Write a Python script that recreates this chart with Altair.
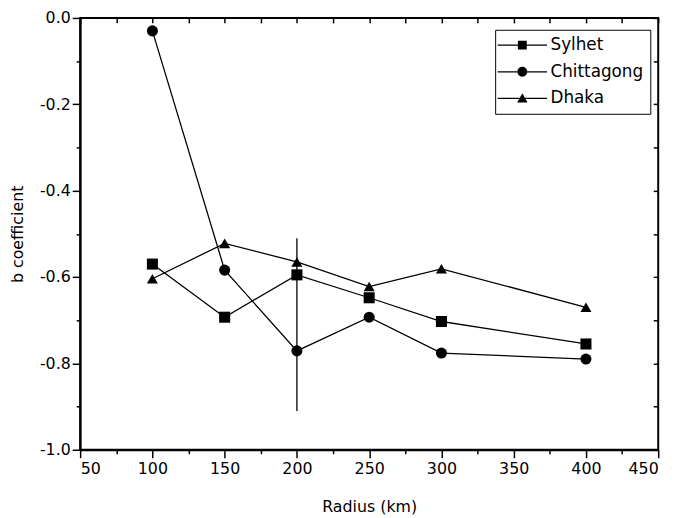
import altair as alt
import pandas as pd

radius = [100, 150, 200, 250, 300, 400]
sylhet = [-0.57, -0.693, -0.595, -0.648, -0.703, -0.755]
chittagong = [-0.03, -0.584, -0.771, -0.693, -0.776, -0.79]
dhaka = [-0.604, -0.522, -0.565, -0.622, -0.581, -0.67]
series_names = ["Sylhet", "Chittagong", "Dhaka"]
marker_shapes = ["square", "circle", "triangle-up"]

err_x = [200]
err_low = [-0.91]
err_high = [-0.51]

x_ticks = list(range(50, 451, 25))
y_ticks = [round(-1.0 + 0.1 * i, 1) for i in range(11)]

rows = []
for name, vals in zip(series_names, [sylhet, chittagong, dhaka]):
    for r, v in zip(radius, vals):
        rows.append({"radius": r, "b": v, "series": name})
df = pd.DataFrame(rows)
err_df = pd.DataFrame({"radius": err_x, "lo": err_low, "hi": err_high})

FONT = "DejaVu Sans"
xscale = alt.Scale(domain=[50, 450], nice=False, zero=False)
yscale = alt.Scale(domain=[-1.0, 0.0], nice=False, zero=False)

x_axis = alt.Axis(
    values=x_ticks, title="Radius (km)", orient="bottom",
    labelExpr="datum.value % 50 == 0 ? datum.label : ''",
    tickSize={"condition": {"test": "datum.value % 50 == 0", "value": 8}, "value": 4},
    labelPadding=3, titlePadding=22, grid=False,
)
y_axis = alt.Axis(
    values=y_ticks, title="b coefficient", orient="left",
    labelExpr="abs(round(datum.value*10)) % 2 == 0 ? (datum.value < 0 ? '-' : '') + format(abs(datum.value), '.1f') : ''",
    tickSize={"condition": {"test": "abs(round(datum.value*10)) % 2 == 0", "value": 8}, "value": 4},
    labelPadding=2, titlePadding=14, grid=False,
)

base = alt.Chart(df)

lines = base.mark_line(color="black", strokeWidth=1.3).encode(
    x=alt.X("radius:Q", scale=xscale, axis=x_axis),
    y=alt.Y("b:Q", scale=yscale, axis=y_axis),
    detail="series:N",
)

point_layers = []
for name, shp in zip(series_names, marker_shapes):
    point_layers.append(
        base.transform_filter(alt.datum.series == name).mark_point(
            filled=True, color="black", opacity=1, size=125, shape=shp
        ).encode(
            x=alt.X("radius:Q", scale=xscale, axis=None),
            y=alt.Y("b:Q", scale=yscale, axis=None),
        )
    )

# legend-only layer: filled symbols with a thin bar (the line) through them
sq = "M-5,-0.13H-0.9V-0.9H0.9V-0.13H5V0.13H0.9V0.9H-0.9V0.13H-5Z"
ci = ("M-5,-0.13H-0.98V0.13H-5ZM0.98,-0.13H5V0.13H0.98Z"
      "M-1,0A1,1 0 1,0 1,0A1,1 0 1,0 -1,0Z")
tr = ("M-5,-0.13H-0.5V0.13H-5ZM0.5,-0.13H5V0.13H0.5Z"
      "M0,-1.05L1.05,0.8L-1.05,0.8Z")

legend_layer = base.transform_filter("datum.b > 10").mark_point(
    filled=True, color="black", size=100
).encode(
    x=alt.X("radius:Q", scale=xscale, axis=None),
    y=alt.Y("b:Q", scale=yscale, axis=None),
    shape=alt.Shape(
        "series:N",
        scale=alt.Scale(domain=series_names, range=[sq, ci, tr]),
        legend=alt.Legend(
            title=None, orient="none", legendX=420, legendY=12,
            strokeColor="black", padding=7, symbolSize=100,
            symbolOffset=12, labelOffset=20, rowPadding=9,
            labelFont=FONT, labelFontSize=17, labelColor="black",
            symbolFillColor="black", symbolOpacity=1,
        ),
    ),
)

errbar = alt.Chart(err_df).mark_rule(color="black", strokeWidth=1.3).encode(
    x=alt.X("radius:Q", scale=xscale, axis=None),
    y=alt.Y("lo:Q", scale=yscale, axis=None),
    y2="hi:Q",
)

frame_axes = base.mark_point(opacity=0).encode(
    x=alt.X("radius:Q", scale=xscale, axis=alt.Axis(
        orient="top", values=x_ticks, labels=False, title=None, domain=False,
        offset=-5, tickSize=5, grid=False)),
    y=alt.Y("b:Q", scale=yscale, axis=alt.Axis(
        orient="right", values=y_ticks, labels=False, title=None, domain=False,
        offset=-5, tickSize=5, grid=False)),
)

chart = alt.layer(lines, errbar, *point_layers, legend_layer, frame_axes).resolve_axis(
    x="independent", y="independent"
).properties(
    width=585, height=437,
    autosize=alt.AutoSizeParams(type="none"),
    padding={"left": 73, "top": 7, "right": 17, "bottom": 66},
    background="white",
).configure_view(
    stroke="black", strokeWidth=2
).configure_axis(
    labelFont=FONT, titleFont=FONT, labelFontSize=16, titleFontSize=16,
    labelColor="black", titleColor="black", tickColor="black", domainColor="black",
    domainWidth=2, tickWidth=1.5, titleFontWeight="normal",
).configure_legend(
    labelFont=FONT,
)

chart.save("out.html", embed_options={"renderer": "svg", "actions": False})
